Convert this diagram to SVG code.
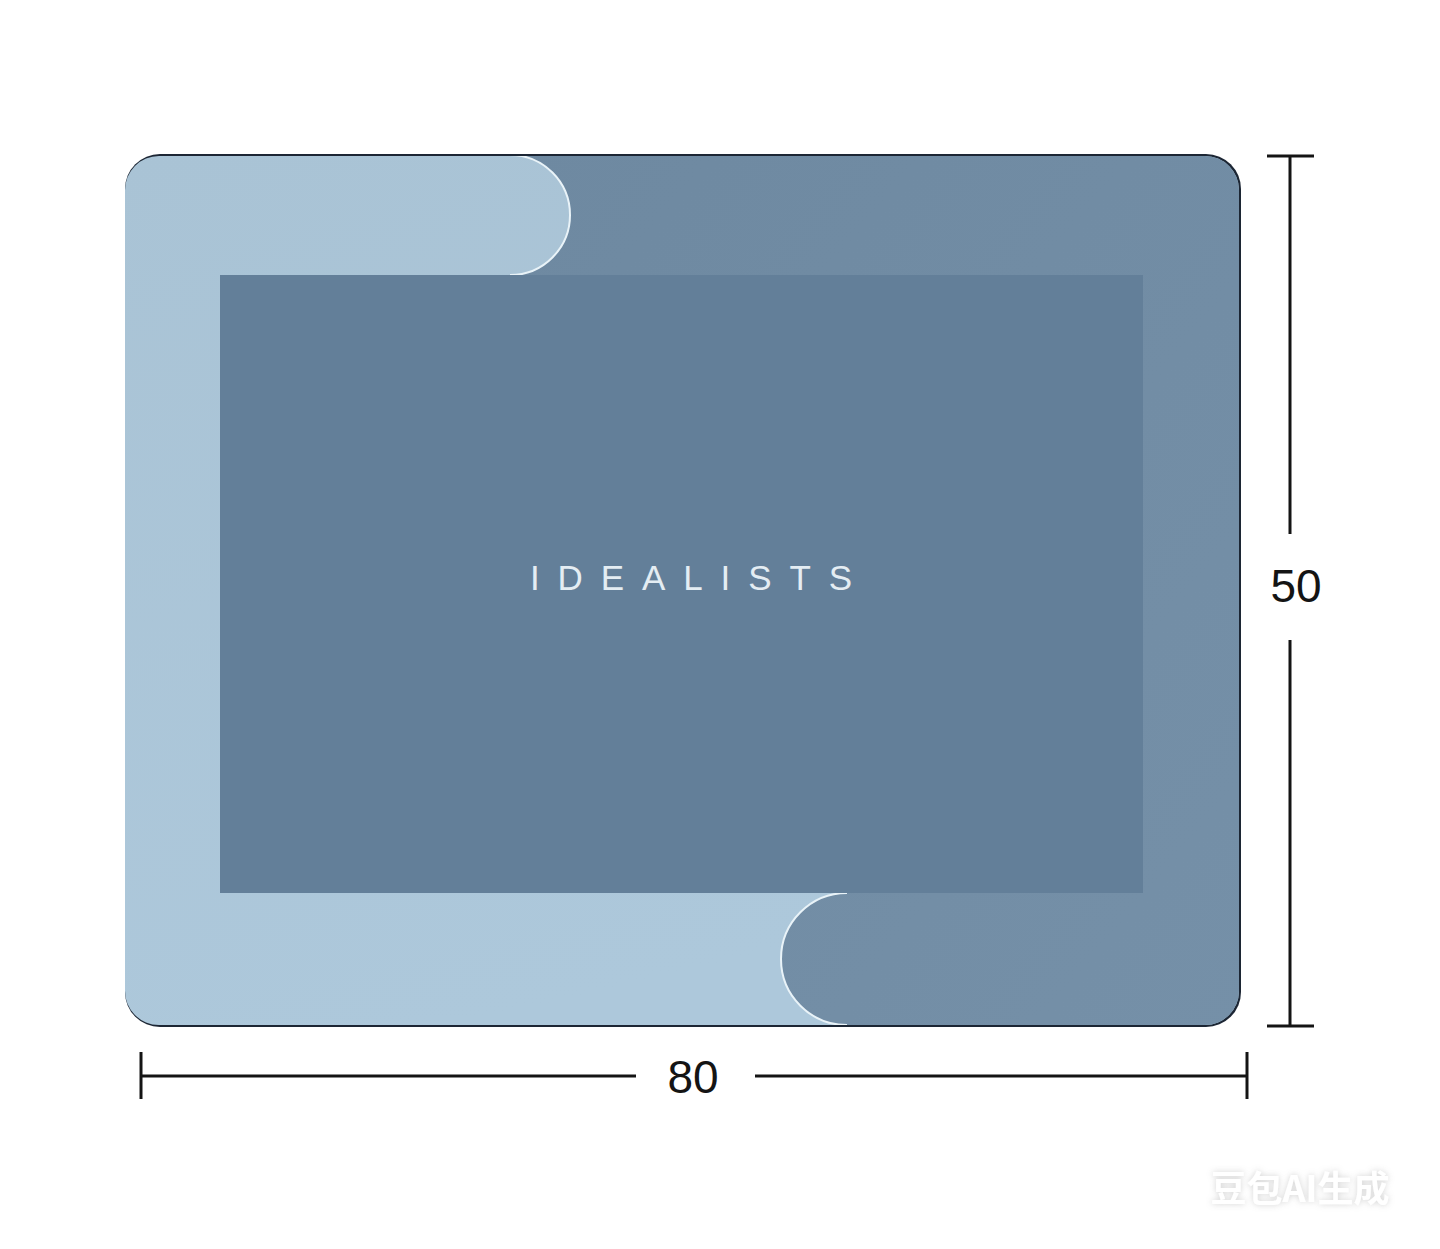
<svg xmlns="http://www.w3.org/2000/svg" width="1440" height="1249" viewBox="0 0 1440 1249">
  <defs>
    <style>
      .dim { stroke: #141414; stroke-width: 3; fill: none; }
      .lbl { font-family: "Liberation Sans", Arial, sans-serif; font-size: 46px; fill: #141414; text-anchor: middle; }
      .seam { fill: none; stroke: #e9f3f8; stroke-width: 2; }
    </style>
    <clipPath id="matClip">
      <rect x="125" y="156" width="1114" height="869" rx="34"/>
    </clipPath>
    <linearGradient id="lightGrad" x1="0" y1="0" x2="0.3" y2="1">
      <stop offset="0" stop-color="#a9c3d5"/>
      <stop offset="1" stop-color="#adc8db"/>
    </linearGradient>
    <linearGradient id="darkGrad" x1="0" y1="0" x2="1" y2="1">
      <stop offset="0" stop-color="#6e89a1"/>
      <stop offset="1" stop-color="#7590a8"/>
    </linearGradient>
    <filter id="wmShadow" x="-10%" y="-30%" width="120%" height="160%">
      <feDropShadow dx="0" dy="0" stdDeviation="3" flood-color="#9a9a9a" flood-opacity="0.45"/>
    </filter>
  </defs>

  <rect x="0" y="0" width="1440" height="1249" fill="#ffffff"/>

  <g id="mat">
    <rect x="125" y="154" width="1116" height="873" rx="35" fill="#1c2634"/>
    <g clip-path="url(#matClip)">
      <rect x="125" y="156" width="1114" height="869" fill="url(#lightGrad)"/>
      <path d="M510,150 L510,155 A60,60 0 0 1 510,275 L1143,275 L1143,893 L847,893 A66,66 0 0 0 847,1025 L847,1030 L1245,1030 L1245,150 Z" fill="url(#darkGrad)"/>
      <path class="seam" d="M510,155 A60,60 0 0 1 510,275"/>
      <path class="seam" d="M847,893 A66,66 0 0 0 847,1025"/>
    </g>
  </g>

  <g id="center-panel">
    <rect x="220" y="275" width="923" height="618" fill="#637f99"/>
    <text x="530" y="590" textLength="322" lengthAdjust="spacing" font-family="'Liberation Sans', Arial, sans-serif" font-size="35" fill="#e4edf3">IDEALISTS</text>
  </g>

  <g id="connectors">
    <line class="dim" x1="1290" y1="156" x2="1290" y2="534"/>
    <line class="dim" x1="1290" y1="640" x2="1290" y2="1026"/>
    <line class="dim" x1="1267" y1="156" x2="1314" y2="156"/>
    <line class="dim" x1="1267" y1="1026" x2="1314" y2="1026"/>
    <line class="dim" x1="141" y1="1076" x2="636" y2="1076"/>
    <line class="dim" x1="755" y1="1076" x2="1247" y2="1076"/>
    <line class="dim" x1="141" y1="1052" x2="141" y2="1099"/>
    <line class="dim" x1="1247" y1="1052" x2="1247" y2="1099"/>
  </g>

  <g id="label-50">
    <text class="lbl" x="1296" y="602">50</text>
  </g>
  <g id="label-80">
    <text class="lbl" x="693" y="1093">80</text>
  </g>

  <g id="watermark">
    <text x="1300" y="1202" text-anchor="middle" font-family="'Noto Sans CJK SC', sans-serif" font-weight="bold" font-size="36" fill="#ffffff" filter="url(#wmShadow)">豆包AI生成</text>
  </g>
</svg>
